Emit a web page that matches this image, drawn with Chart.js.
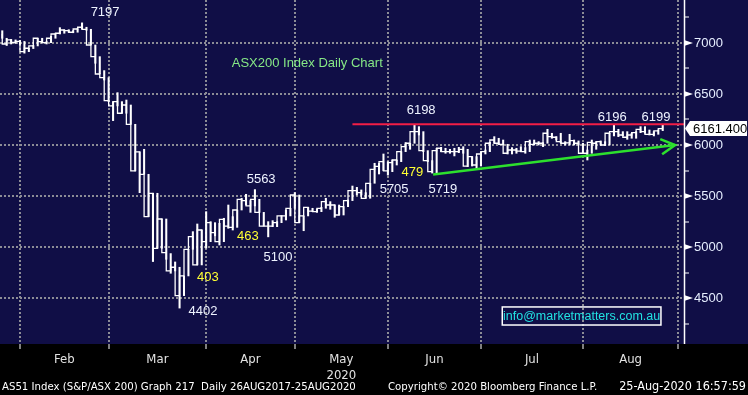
<!DOCTYPE html>
<html lang="en">
<head>
    <meta charset="UTF-8">
    <title>ASX200 Index Daily Chart</title>
    <style>
        body {
            margin: 0;
            background-color: #000;
        }

        .chart-container {
            width: 748px;
            height: 395px;
        }
    </style>
    <script src="https://cdn.jsdelivr.net/npm/chart.js"></script>
</head>
<body>
    <div class="chart-container">
        <canvas id="asxChart" width="748" height="395"></canvas>
    </div>
    <script>
        // daily bars, index 0 = late January 2020, last = 25 Aug 2020
        const closes = [
            7088, 6990, 7030, 7005, 7015, 6915, 6948, 6971, 7046, 7013,
            7003, 7046, 7088, 7095, 7127, 7121, 7105, 7137, 7154, 7134,
            6980, 6866, 6696, 6660, 6435, 6383, 6425, 6311, 6392, 6203,
            5746, 5932, 5713, 5298, 5527, 4988, 5275, 4945, 4766, 4802,
            4524, 4717, 4978, 5102, 4825, 5167, 5053, 5239, 5141, 5053,
            5272, 5206, 5193, 5363, 5468, 5455, 5403, 5468, 5340, 5206,
            5206, 5206, 5239, 5305, 5305, 5380, 5510, 5239, 5305, 5389,
            5353, 5347, 5380, 5445, 5412, 5412, 5314, 5396, 5455, 5553,
            5553, 5533, 5478, 5625, 5762, 5790, 5837, 5746, 5827, 5853,
            5935, 5984, 6017, 6131, 6131, 5945, 5847, 5740, 5945, 5968,
            5935, 5935, 5935, 5935, 5958, 5794, 5886, 5804, 5912, 5935,
            6017, 6049, 6017, 6007, 5919, 5951, 5951, 5941, 5935, 6033,
            6007, 6017, 6017, 6115, 6082, 6076, 6033, 6017, 6020, 6043,
            6017, 5919, 5919, 6026, 6017, 6033, 6000, 6115, 6131, 6131,
            6098, 6076, 6098, 6121, 6154, 6131, 6105, 6105, 6138, 6161.4
        ];
        const highs = [
            7120, 7046, 7035, 7030, 7025, 7015, 6950, 6975, 7046, 7046,
            7013, 7065, 7088, 7150, 7127, 7130, 7121, 7140, 7197, 7154,
            7134, 6980, 6866, 6729, 6660, 6425, 6513, 6425, 6441, 6392,
            6203, 5932, 5958, 5713, 5527, 5527, 5275, 5275, 4936, 4854,
            4802, 4717, 4978, 5151, 5226, 5167, 5347, 5249, 5239, 5233,
            5282, 5412, 5298, 5363, 5478, 5517, 5455, 5563, 5468, 5340,
            5249, 5259, 5249, 5308, 5363, 5380, 5533, 5510, 5305, 5389,
            5380, 5373, 5389, 5478, 5445, 5412, 5412, 5396, 5461, 5598,
            5585, 5560, 5533, 5625, 5821, 5821, 5912, 5837, 5853, 5853,
            5935, 6023, 6017, 6198, 6180, 6131, 5945, 5847, 5968, 5977,
            5968, 5958, 5968, 5977, 5984, 5958, 5886, 5886, 5935, 5951,
            6027, 6082, 6066, 6049, 6007, 5974, 5968, 5984, 5974, 6049,
            6049, 6033, 6023, 6154, 6115, 6082, 6115, 6033, 6105, 6049,
            6040, 6017, 5951, 6049, 6033, 6040, 6033, 6115, 6196, 6154,
            6131, 6131, 6115, 6131, 6180, 6180, 6147, 6131, 6147, 6199
        ];
        const lows = [
            7046, 6975, 6990, 6995, 6985, 6900, 6915, 6945, 6971, 7000,
            6990, 7003, 7046, 7088, 7095, 7105, 7100, 7105, 7137, 7125,
            6980, 6801, 6696, 6637, 6425, 6239, 6383, 6311, 6311, 6203,
            5746, 5533, 5713, 5298, 4858, 4988, 4988, 4880, 4743, 4766,
            4402, 4524, 4717, 4978, 4825, 4825, 4990, 5053, 5110, 5020,
            5053, 5184, 5167, 5193, 5363, 5412, 5340, 5403, 5340, 5206,
            5100, 5200, 5200, 5239, 5265, 5305, 5380, 5239, 5160, 5305,
            5347, 5340, 5347, 5380, 5370, 5292, 5314, 5314, 5396, 5455,
            5510, 5510, 5478, 5478, 5625, 5716, 5749, 5705, 5739, 5804,
            5837, 5935, 5958, 6017, 6098, 5935, 5837, 5725, 5719, 5935,
            5919, 5919, 5893, 5925, 5919, 5788, 5794, 5772, 5794, 5912,
            5935, 6017, 6010, 6000, 5912, 5912, 5919, 5935, 5919, 5935,
            6000, 6000, 5984, 6017, 6066, 6049, 6023, 6000, 6000, 6000,
            6000, 5915, 5853, 5919, 5958, 6000, 5995, 6000, 6089, 6082,
            6090, 6056, 6066, 6066, 6121, 6115, 6098, 6089, 6105, 6141
        ];

        // bar index where each month starts (last one = September)
        const monthStarts = [4, 24, 46, 66, 87, 108, 131, 152.5];
        const monthLabels = ['Feb', 'Mar', 'Apr', 'May', 'Jun', 'Jul', 'Aug'];
        const yearLabel = '2020';
        const priceTicks = [4250, 4500, 4750, 5000, 5250, 5500, 5750, 6000, 6250, 6500, 6750, 7000, 7250];

        const resistanceLevel = 6203;
        const resistanceFrom = 79;
        const trendX = [97.2, 151.8];
        const trendY = [5712, 6000];
        const lastPrice = 6161.4;

        // text, bar index, price, colour
        const callouts = [
            ['7197', 23.2, 7299, '#eef3ff'],
            ['ASX200 Index Daily Chart', 68.8, 6804, '#86e886'],
            ['5563', 58.4, 5667, '#eef3ff'],
            ['463', 55.4, 5104, '#ffff33'],
            ['5100', 62.2, 4903, '#eef3ff'],
            ['403', 46.4, 4707, '#ffff33'],
            ['4402', 45.3, 4374, '#eef3ff'],
            ['6198', 94.5, 6343, '#eef3ff'],
            ['479', 92.5, 5736, '#ffff33'],
            ['5705', 88.4, 5569, '#eef3ff'],
            ['5719', 99.4, 5569, '#eef3ff'],
            ['6196', 137.6, 6275, '#eef3ff'],
            ['6199', 147.5, 6275, '#eef3ff']
        ];
        const infoText = 'info@marketmatters.com.au';
        const infoBox = [112.8, 148.6, 4413, 4236];

        const footerLeft = 'AS51 Index (S&P/ASX 200) Graph 217  Daily 26AUG2017-25AUG2020';
        const footerMid = 'Copyright\u00a9 2020 Bloomberg Finance L.P.';
        const footerRight = '25-Aug-2020 16:57:59';

        const gridGrey = '#8c8c96';
        const navy = '#100e46';

        const monthMids = monthLabels.map((m, k) => (monthStarts[k] + monthStarts[k + 1]) / 2);

        const backdrop = {
            id: 'backdrop',
            beforeDraw(chart) {
                const { ctx, width, height, chartArea } = chart;
                ctx.save();
                ctx.fillStyle = '#000';
                ctx.fillRect(0, 0, width, height);
                ctx.fillStyle = navy;
                ctx.fillRect(0, 0, width, chartArea.bottom);
                ctx.restore();
            }
        };

        const overlay = {
            id: 'overlay',
            afterDraw(chart) {
                const { ctx, chartArea } = chart;
                const xs = chart.scales.x;
                const ys = chart.scales.y;
                ctx.save();

                // right axis line with arrow marks on the major ticks
                ctx.strokeStyle = '#fff';
                ctx.lineWidth = 1.5;
                ctx.beginPath();
                ctx.moveTo(chartArea.right + 0.5, 0);
                ctx.lineTo(chartArea.right + 0.5, chartArea.bottom);
                ctx.stroke();
                ctx.fillStyle = '#fff';
                priceTicks.filter(v => v % 500 === 0).forEach(v => {
                    const y = ys.getPixelForValue(v);
                    ctx.beginPath();
                    ctx.moveTo(chartArea.right, y - 3);
                    ctx.lineTo(chartArea.right + 9, y);
                    ctx.lineTo(chartArea.right, y + 3);
                    ctx.closePath();
                    ctx.fill();
                });

                // callout numbers
                ctx.font = '13px "Liberation Sans", Arial, sans-serif';
                ctx.textAlign = 'center';
                ctx.textBaseline = 'middle';
                callouts.forEach(([text, i, v, color]) => {
                    ctx.fillStyle = color;
                    ctx.fillText(text, xs.getPixelForValue(i), ys.getPixelForValue(v));
                });

                // arrow head on the trend line
                const x0 = xs.getPixelForValue(trendX[0]);
                const y0 = ys.getPixelForValue(trendY[0]);
                const x1 = xs.getPixelForValue(trendX[1]);
                const y1 = ys.getPixelForValue(trendY[1]);
                const ang = Math.atan2(y1 - y0, x1 - x0);
                ctx.strokeStyle = '#2de02d';
                ctx.lineWidth = 2.5;
                ctx.beginPath();
                ctx.moveTo(x1 + 16 * Math.cos(ang + Math.PI - 0.5), y1 + 16 * Math.sin(ang + Math.PI - 0.5));
                ctx.lineTo(x1, y1);
                ctx.lineTo(x1 + 16 * Math.cos(ang + Math.PI + 0.5), y1 + 16 * Math.sin(ang + Math.PI + 0.5));
                ctx.stroke();

                // contact box
                const bx0 = xs.getPixelForValue(infoBox[0]);
                const bx1 = xs.getPixelForValue(infoBox[1]);
                const by0 = ys.getPixelForValue(infoBox[2]);
                const by1 = ys.getPixelForValue(infoBox[3]);
                ctx.strokeStyle = '#fff';
                ctx.lineWidth = 1.5;
                ctx.strokeRect(bx0, by0, bx1 - bx0, by1 - by0);
                ctx.fillStyle = '#22e2e2';
                ctx.font = '12.5px "Liberation Sans", Arial, sans-serif';
                ctx.fillText(infoText, (bx0 + bx1) / 2, (by0 + by1) / 2 + 0.5);

                // last price tag
                const py = ys.getPixelForValue(lastPrice);
                const px = chartArea.right + 1;
                ctx.fillStyle = '#fff';
                ctx.beginPath();
                ctx.moveTo(px, py);
                ctx.lineTo(px + 5, py - 7.5);
                ctx.lineTo(747, py - 7.5);
                ctx.lineTo(747, py + 7.5);
                ctx.lineTo(px + 5, py + 7.5);
                ctx.closePath();
                ctx.fill();
                ctx.fillStyle = '#000';
                ctx.font = '13px "Liberation Sans", Arial, sans-serif';
                ctx.textAlign = 'left';
                ctx.fillText(lastPrice.toFixed(3), px + 8, py + 0.5);

                // footer
                ctx.fillStyle = '#fff';
                ctx.font = '11.3px "Liberation Sans Narrow", "DejaVu Sans Condensed", sans-serif';
                ctx.textAlign = 'left';
                ctx.fillText(footerLeft, 2, 387);
                ctx.fillText(footerMid, 388, 387);
                ctx.textAlign = 'right';
                ctx.font = '12.5px "Liberation Sans Narrow", "DejaVu Sans Condensed", sans-serif';
                ctx.fillText(footerRight, 746, 387);

                ctx.restore();
            }
        };

        const ctx = document.getElementById('asxChart').getContext('2d');

        const asxChart = new Chart(ctx, {
            type: 'bar',
            data: {
                datasets: [
                    {
                        type: 'line',
                        data: [{ x: trendX[0], y: trendY[0] }, { x: trendX[1], y: trendY[1] }],
                        borderColor: '#2de02d',
                        borderWidth: 2.5,
                        pointRadius: 0
                    },
                    {
                        type: 'line',
                        data: [{ x: resistanceFrom, y: resistanceLevel }, { x: 154, y: resistanceLevel }],
                        borderColor: '#f21e46',
                        borderWidth: 2,
                        pointRadius: 0
                    },
                    {
                        type: 'line',
                        data: closes.map((c, i) => ({ x: i, y: c })),
                        stepped: 'after',
                        borderColor: '#fff',
                        borderWidth: 1.3,
                        pointRadius: 0
                    },
                    {
                        type: 'bar',
                        data: highs.map((h, i) => ({ x: i, y: [lows[i], h] })),
                        backgroundColor: '#fff',
                        borderWidth: 0,
                        barThickness: 1.4,
                        grouped: false
                    }
                ]
            },
            options: {
                responsive: false,
                animation: false,
                devicePixelRatio: 1,
                layout: { padding: 0 },
                plugins: {
                    legend: { display: false },
                    tooltip: { enabled: false }
                },
                scales: {
                    x: {
                        type: 'linear',
                        min: -0.51,
                        max: 153.8,
                        offset: false,
                        afterBuildTicks: scale => {
                            scale.ticks = monthStarts.concat(monthMids)
                                .sort((a, b) => a - b)
                                .map(v => ({ value: v }));
                        },
                        afterFit: scale => {
                            scale.height = 51;
                            scale.paddingLeft = 0;
                            scale.paddingRight = 0;
                        },
                        grid: {
                            offset: false,
                            color: c => (c.tick && monthStarts.includes(c.tick.value) ? gridGrey : 'transparent'),
                            lineWidth: 2,
                            tickColor: c => (c.tick && monthStarts.includes(c.tick.value) ? '#fff' : 'transparent'),
                            tickLength: 5,
                            tickWidth: 1
                        },
                        border: { display: false, dash: [2, 2] },
                        ticks: {
                            autoSkip: false,
                            maxRotation: 0,
                            padding: 2,
                            color: '#e2e2e2',
                            font: { family: '"Liberation Sans Narrow", "DejaVu Sans Condensed", sans-serif', size: 13, lineHeight: 1.25 },
                            callback: value => {
                                const k = monthMids.indexOf(value);
                                if (k < 0) return '';
                                return monthLabels[k] === 'May' ? [monthLabels[k], yearLabel] : monthLabels[k];
                            }
                        }
                    },
                    y: {
                        type: 'linear',
                        position: 'right',
                        min: 4050,
                        max: 7421,
                        afterBuildTicks: scale => {
                            scale.ticks = priceTicks.map(v => ({ value: v }));
                        },
                        afterFit: scale => {
                            scale.width = 64;
                            scale.paddingTop = 0;
                            scale.paddingBottom = 0;
                        },
                        grid: {
                            color: c => (c.tick && c.tick.value % 500 === 0 ? gridGrey : 'transparent'),
                            lineWidth: 2,
                            tickColor: c => (c.tick && c.tick.value % 500 !== 0 ? '#fff' : 'transparent'),
                            tickLength: 5,
                            tickWidth: 1
                        },
                        border: { display: false, dash: [2, 2] },
                        ticks: {
                            padding: 5,
                            color: '#e6eeff',
                            font: { family: '"Liberation Sans", Arial, sans-serif', size: 13 },
                            callback: value => (value % 500 === 0 ? String(value) : '')
                        }
                    }
                }
            },
            plugins: [backdrop, overlay]
        });
    </script>
</body>
</html>
